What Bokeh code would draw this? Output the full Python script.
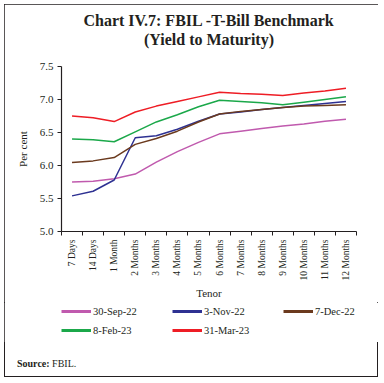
from math import pi
from bokeh.plotting import figure
from bokeh.layouts import column
from bokeh.models import FixedTicker, Legend, LegendItem, Range1d, Title, Div
from bokeh.embed import file_html
from bokeh.resources import INLINE

categories = ["7 Days", "14 Days", "1 Month", "2 Months", "3 Months", "4 Months",
              "5 Months", "6 Months", "7 Months", "8 Months", "9 Months",
              "10 Months", "11 Months", "12 Months"]
sep22 = [5.75, 5.76, 5.80, 5.87, 6.05, 6.21, 6.35, 6.48, 6.52, 6.56, 6.60, 6.63, 6.67, 6.70]
nov22 = [5.54, 5.61, 5.78, 6.42, 6.45, 6.55, 6.67, 6.78, 6.81, 6.85, 6.88, 6.91, 6.94, 6.97]
dec22 = [6.045, 6.07, 6.12, 6.32, 6.41, 6.52, 6.66, 6.78, 6.82, 6.85, 6.88, 6.90, 6.91, 6.92]
feb23 = [6.40, 6.39, 6.36, 6.51, 6.66, 6.77, 6.89, 6.99, 6.97, 6.95, 6.92, 6.96, 7.00, 7.04]
mar23 = [6.75, 6.725, 6.665, 6.81, 6.90, 6.97, 7.04, 7.11, 7.09, 7.08, 7.06, 7.10, 7.13, 7.17]
series_names = ["30-Sep-22", "3-Nov-22", "7-Dec-22", "8-Feb-23", "31-Mar-23"]
series_values = [sep22, nov22, dec22, feb23, mar23]
colors = ["#C05AAE", "#2E3192", "#6B3A1E", "#1BA84A", "#EE1D25"]
y_ticks = [5.0, 5.5, 6.0, 6.5, 7.0, 7.5]

SERIF = "Liberation Serif"
INK = "#231F20"
xs = list(range(len(categories)))

# ---------------- main chart ----------------
p = figure(width=374, height=298, output_backend="svg", toolbar_location=None,
           x_range=Range1d(-0.5, len(categories) - 0.5), y_range=Range1d(5.0, 7.5),
           min_border_left=57, min_border_right=22, min_border_top=62, min_border_bottom=70)

p.title.visible = False
# stacked from the frame outwards: spacer, second line, first line
for txt in [" ", "(Yield to Maturity)", "Chart IV.7: FBIL -T-Bill Benchmark"]:
    p.add_layout(Title(text=txt, align="center", text_font=SERIF, text_font_size="16px",
                       text_font_style="bold", text_color=INK, standoff=0), "above")

p.outline_line_color = None
p.border_fill_color = "white"
p.background_fill_color = "white"
p.xgrid.visible = False
p.ygrid.visible = False

for vals, c in zip(series_values, colors):
    p.line(xs, vals, line_color=c, line_width=1.5)

p.xaxis.ticker = FixedTicker(ticks=xs, minor_ticks=[i - 0.5 for i in range(len(categories) + 1)])
p.xaxis.major_label_overrides = {i: c for i, c in enumerate(categories)}
p.xaxis.major_label_orientation = pi / 2
p.xaxis.major_tick_out = 0
p.xaxis.major_tick_in = 0
p.xaxis.minor_tick_out = 4
p.xaxis.minor_tick_in = 0
p.xaxis.axis_label = "Tenor"
p.xaxis.major_label_text_font_size = "9.5px"
p.xaxis.major_label_standoff = 4
p.xaxis.axis_label_standoff = 4

p.yaxis.ticker = FixedTicker(ticks=y_ticks)
p.yaxis.major_label_overrides = {t: f"{t:.1f}" for t in y_ticks}
p.yaxis.major_tick_out = 4
p.yaxis.major_tick_in = 0
p.yaxis.minor_tick_out = 0
p.yaxis.minor_tick_in = 0
p.yaxis.axis_label = "Per cent"
p.yaxis.major_label_text_font_size = "11px"
p.yaxis.major_label_standoff = 4
p.yaxis.axis_label_standoff = 8

for ax in (p.xaxis[0], p.yaxis[0]):
    ax.axis_line_color = INK
    ax.axis_line_width = 1.2
    ax.major_tick_line_color = INK
    ax.minor_tick_line_color = INK
    ax.major_label_text_font = SERIF
    ax.major_label_text_color = INK
    ax.axis_label_text_font = SERIF
    ax.axis_label_text_font_size = "11px"
    ax.axis_label_text_font_style = "normal"
    ax.axis_label_text_color = INK

# ---------------- legend strip (frame aligned with the chart frame) ----------------
q = figure(width=374, height=40, output_backend="svg", toolbar_location=None,
           x_range=Range1d(0, 1), y_range=Range1d(0, 1),
           x_axis_type=None, y_axis_type=None,
           min_border_left=0, min_border_right=0, min_border_top=0, min_border_bottom=0)
q.outline_line_color = None
q.xgrid.visible = False
q.ygrid.visible = False
q.border_fill_color = "white"

# legend keys: same series, lying outside this strip's visible range
keys = [q.line(xs, vals, line_color=c, line_width=3) for vals, c in zip(series_values, colors)]
legend = Legend(items=[LegendItem(label=n, renderers=[r]) for n, r in zip(series_names, keys)],
                orientation="horizontal", ncols=3, location=(0, 5),
                glyph_width=30, glyph_height=14, label_height=14, label_width=74,
                label_standoff=2, spacing=5, padding=0, margin=0,
                border_line_color=None, background_fill_alpha=0,
                label_text_font=SERIF, label_text_font_size="10.5px", label_text_color=INK)
q.add_layout(legend, "center")

# ---------------- source note ----------------
src = Div(width=374, height=35, margin=(0, 0, 0, 0),
          text=("<div style=\"font-family:'Liberation Serif';font-size:10px;color:#231F20;"
                "padding:16px 0 0 13px;line-height:12px\"><b>Source:</b> FBIL.</div>"))

layout = column(p, q, src, spacing=0,
                styles={"margin-left": "4px", "margin-top": "4px",
                        "outline": "1.5px solid #231F20", "outline-offset": "-1px"})

open("out.html", "w").write(file_html(layout, INLINE))
